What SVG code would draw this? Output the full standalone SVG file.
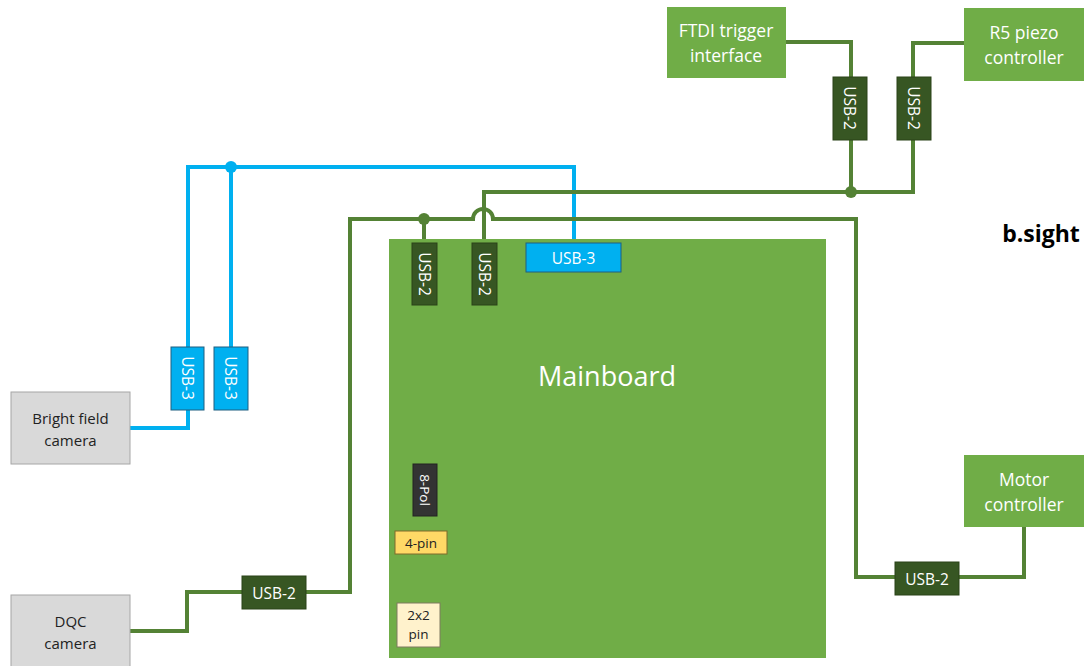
<svg xmlns="http://www.w3.org/2000/svg" width="1085" height="666" viewBox="0 0 1085 666">
<style>
text{font-family:"Open Sans","Liberation Sans",sans-serif;text-anchor:middle;dominant-baseline:central}
.node{fill:#70AD47}
.wt{fill:#fff;font-size:17.5px}
.u2{fill:#375623;stroke:#2a4219;stroke-width:1}
.u3{fill:#00B0F0;stroke:#1f5f80;stroke-width:1}
.cam{fill:#D9D9D9;stroke:#A6A6A6;stroke-width:1}
.sm{fill:#fff;font-size:15.5px}
.dk{fill:#222;font-size:15px}
.g{fill:none;stroke:#548235;stroke-width:4}
.b{fill:none;stroke:#00B0F0;stroke-width:4}
</style>
<rect width="1085" height="666" fill="#fff"/>
<g id="connectors">
<path class="b" d="M130,428 H188 V167 H574 V243"/>
<path class="b" d="M231,167 V347"/>
<circle cx="231" cy="167" r="6" fill="#00B0F0"/>
<path class="g" d="M786,42 H851 V192 H484 V243"/>
<path class="g" d="M964,43 H913 V192 H851"/>
<circle cx="851" cy="192" r="6" fill="#548235"/>
<path class="g" d="M130,631 H187 V592 H350 V219 H473 A10,10 0 0 1 493,219 H856 V577 H1024 V527"/>
<path class="g" d="M424,219 V243"/>
<circle cx="424" cy="219" r="6" fill="#548235"/>
</g>
<g id="ftdi"><rect class="node" x="667" y="7" width="119" height="71"/><text class="wt" x="726" y="30">FTDI trigger</text><text class="wt" x="726" y="55">interface</text></g>
<g id="r5"><rect class="node" x="964" y="8" width="120" height="73"/><text class="wt" x="1024" y="32">R5 piezo</text><text class="wt" x="1024" y="57">controller</text></g>
<g id="usb2-ftdi"><rect class="u2" x="833" y="77" width="34" height="63"/><text class="sm" transform="translate(850,108) rotate(90)">USB-2</text></g>
<g id="usb2-r5"><rect class="u2" x="897" y="77" width="34" height="63"/><text class="sm" transform="translate(914,108) rotate(90)">USB-2</text></g>
<g id="bsight"><text x="1041" y="233" style="font-size:23px;font-weight:bold;fill:#000">b.sight</text></g>
<g id="mainboard"><rect class="node" x="389" y="239" width="437" height="419"/><text x="607" y="375" style="fill:#fff;font-size:27px">Mainboard</text></g>
<g id="mb-usb2-a"><rect class="u2" x="412" y="243" width="25" height="62"/><text class="sm" transform="translate(424.5,274) rotate(90)">USB-2</text></g>
<g id="mb-usb2-b"><rect class="u2" x="472" y="243" width="25" height="62"/><text class="sm" transform="translate(484.5,274) rotate(90)">USB-2</text></g>
<g id="mb-usb3"><rect class="u3" x="526" y="243" width="95" height="29"/><text class="sm" x="573.5" y="258">USB-3</text></g>
<g id="mb-8pol"><rect x="413" y="464" width="24" height="52" fill="#333" stroke="#222"/><text class="sm" style="font-size:13.5px" transform="translate(425,490) rotate(90)">8-Pol</text></g>
<g id="mb-4pin"><rect x="395" y="531" width="52" height="23" fill="#FFD966" stroke="#7f6a2a"/><text class="dk" style="font-size:13.5px" x="421" y="542.5">4-pin</text></g>
<g id="mb-2x2"><rect x="397" y="603" width="43" height="44" fill="#FFF2CC" stroke="#7f7a60"/><text class="dk" style="font-size:13.5px" x="418.5" y="615">2x2</text><text class="dk" style="font-size:13.5px" x="418.5" y="634">pin</text></g>
<g id="usb3-a"><rect class="u3" x="171" y="347" width="33" height="63"/><text class="sm" transform="translate(187.5,378) rotate(90)">USB-3</text></g>
<g id="usb3-b"><rect class="u3" x="214" y="347" width="34" height="63"/><text class="sm" transform="translate(231,378) rotate(90)">USB-3</text></g>
<g id="bf-camera"><rect class="cam" x="11" y="392" width="119" height="72"/><text class="dk" x="70.5" y="418">Bright field</text><text class="dk" x="70.5" y="440">camera</text></g>
<g id="dqc-camera"><rect class="cam" x="11" y="595" width="119" height="75"/><text class="dk" x="70.5" y="621">DQC</text><text class="dk" x="70.5" y="643">camera</text></g>
<g id="usb2-dqc"><rect class="u2" x="242" y="576" width="64" height="33"/><text class="sm" x="274" y="592.5">USB-2</text></g>
<g id="motor"><rect class="node" x="964" y="455" width="120" height="72"/><text class="wt" x="1024" y="479">Motor</text><text class="wt" x="1024" y="504">controller</text></g>
<g id="usb2-motor"><rect class="u2" x="895" y="562" width="64" height="33"/><text class="sm" x="927" y="578.5">USB-2</text></g>
</svg>
